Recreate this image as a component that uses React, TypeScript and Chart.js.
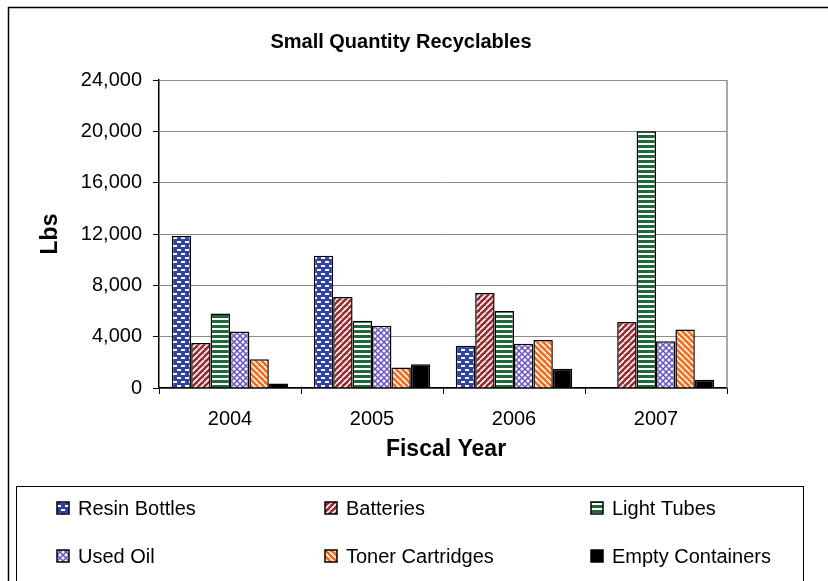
import { useEffect, useRef } from "react";
import { Chart, registerables } from "chart.js";

Chart.register(...registerables);

// Fiscal years on the category axis
const years = ["2004", "2005", "2006", "2007"];

// Pounds collected per year for each recyclable stream
const resinBottles = [11850, 10300, 3300, 0];
const batteries = [3500, 7100, 7400, 5150];
const lightTubes = [5800, 5250, 6000, 20000];
const usedOil = [4400, 4850, 3450, 3650];
const tonerCartridges = [2250, 1600, 3750, 4550];
const emptyContainers = [350, 1850, 1500, 650];

const seriesNames = [
  "Resin Bottles",
  "Batteries",
  "Light Tubes",
  "Used Oil",
  "Toner Cartridges",
  "Empty Containers",
];

// Value axis range
const yMin = 0;
const yMax = 24000;
const yStep = 4000;

const FONT = "Arial, 'Liberation Sans', sans-serif";

function tile(w: number, h: number, paint: (g: CanvasRenderingContext2D) => void) {
  const c = document.createElement("canvas");
  c.width = w;
  c.height = h;
  const g = c.getContext("2d")!;
  paint(g);
  return g.createPattern(c, "repeat")!;
}

function diagonal(bg: string, fg: string, rising: boolean, size = 6, lw = 1.6) {
  return tile(size, size, (g) => {
    g.fillStyle = bg;
    g.fillRect(0, 0, size, size);
    g.strokeStyle = fg;
    g.lineWidth = lw;
    for (const k of [-size, 0, size]) {
      g.beginPath();
      if (rising) {
        g.moveTo(k, size);
        g.lineTo(k + size, 0);
      } else {
        g.moveTo(k, 0);
        g.lineTo(k + size, size);
      }
      g.stroke();
    }
  });
}

function makeFills() {
  const resin = tile(8, 8, (g) => {
    g.fillStyle = "#2f44a6";
    g.fillRect(0, 0, 8, 8);
    g.fillStyle = "#ffffff";
    g.fillRect(1, 1, 4, 2);
    g.fillRect(5, 5, 4, 2);
    g.fillRect(-3, 5, 4, 2);
  });
  const batt = diagonal("#9a2b2e", "#ffffff", true);
  const tubes = tile(4, 5, (g) => {
    g.fillStyle = "#ffffff";
    g.fillRect(0, 0, 4, 5);
    g.fillStyle = "#1d6a38";
    g.fillRect(0, 0, 4, 3);
  });
  const oil = tile(6, 6, (g) => {
    g.fillStyle = "#f4f2fc";
    g.fillRect(0, 0, 6, 6);
    g.strokeStyle = "#6552c0";
    g.lineWidth = 1.4;
    for (const k of [-6, 0, 6]) {
      g.beginPath();
      g.moveTo(k, 6);
      g.lineTo(k + 6, 0);
      g.stroke();
      g.beginPath();
      g.moveTo(k, 0);
      g.lineTo(k + 6, 6);
      g.stroke();
    }
  });
  const toner = diagonal("#ff6a14", "#ffffff", false);
  return [resin, batt, tubes, oil, toner, "#000000"];
}

const framePlugin = {
  id: "frame",
  afterDraw(chart: any) {
    const { ctx, chartArea } = chart;
    ctx.save();

    // chart area outline (runs past the right and bottom edges)
    ctx.strokeStyle = "#000";
    ctx.lineWidth = 1.5;
    ctx.strokeRect(8.5, 7.5, 900, 700);

    // plot area outline on the right
    ctx.strokeStyle = "#8c8c8c";
    ctx.lineWidth = 1.5;
    ctx.beginPath();
    ctx.moveTo(chartArea.right, chartArea.top);
    ctx.lineTo(chartArea.right, chartArea.bottom);
    ctx.stroke();

    // title
    ctx.fillStyle = "#000";
    ctx.textAlign = "center";
    ctx.textBaseline = "middle";
    ctx.font = `bold 20px ${FONT}`;
    ctx.fillText("Small Quantity Recyclables", 401, 42);

    // axis titles
    ctx.font = `bold 23px ${FONT}`;
    ctx.fillText("Fiscal Year", (chartArea.left + chartArea.right) / 2 + 3, 450);
    ctx.save();
    ctx.translate(51, (chartArea.top + chartArea.bottom) / 2);
    ctx.rotate(-Math.PI / 2);
    ctx.fillText("Lbs", 0, 0);
    ctx.restore();

    // legend box
    ctx.strokeStyle = "#000";
    ctx.lineWidth = 1;
    ctx.strokeRect(16.5, 486.5, 787, 200);

    const cols = [57, 325, 591];
    const rows = [508, 556];
    ctx.font = `20px ${FONT}`;
    ctx.textAlign = "left";
    chart.data.datasets.forEach((ds: any, i: number) => {
      const x = cols[i % 3];
      const y = rows[Math.floor(i / 3)];
      ctx.fillStyle = ds.backgroundColor;
      ctx.fillRect(x, y - 6, 12, 12);
      ctx.strokeStyle = "#000";
      ctx.lineWidth = 1.5;
      ctx.strokeRect(x, y - 6, 12, 12);
      ctx.fillStyle = "#000";
      ctx.fillText(ds.label, x + 21, y + 1);
    });

    ctx.restore();
  },
};

export default function App() {
  const ref = useRef<HTMLCanvasElement>(null);

  useEffect(() => {
    const fills = makeFills();
    const values = [resinBottles, batteries, lightTubes, usedOil, tonerCartridges, emptyContainers];
    const chart = new Chart(ref.current!, {
      type: "bar",
      data: {
        labels: years,
        datasets: values.map((data, i) => ({
          label: seriesNames[i],
          data,
          backgroundColor: fills[i] as any,
          borderColor: "#000",
          borderWidth: 1.5,
          barPercentage: 1,
          categoryPercentage: 0.82,
        })),
      },
      options: {
        animation: false,
        responsive: false,
        devicePixelRatio: 1,
        layout: { padding: { left: 59, right: 101, top: 80, bottom: 153 } },
        plugins: {
          legend: { display: false },
          title: { display: false },
          tooltip: { enabled: false },
        },
        scales: {
          x: {
            afterFit: (s: any) => {
              s.height = 40;
            },
            grid: {
              offset: true,
              drawOnChartArea: false,
              drawTicks: true,
              tickLength: 6,
              tickColor: "#000",
            },
            border: { color: "#000", width: 1.5 },
            ticks: { color: "#000", font: { family: FONT, size: 20 }, padding: 13 },
          },
          y: {
            min: yMin,
            max: yMax,
            afterFit: (s: any) => {
              s.width = 100;
            },
            ticks: {
              stepSize: yStep,
              color: "#000",
              font: { family: FONT, size: 20 },
              padding: 11,
              callback: (v: any) => Number(v).toLocaleString("en-US"),
            },
            grid: { color: "#8c8c8c", lineWidth: 1, tickLength: 6, tickColor: "#000" },
            border: { color: "#000", width: 1.5 },
          },
        },
      },
      plugins: [framePlugin],
    });
    return () => chart.destroy();
  }, []);

  return (
    <div style={{ position: "absolute", left: 0, top: 0, width: 828, height: 581, background: "#fff" }}>
      <canvas ref={ref} width={828} height={581} />
    </div>
  );
}
